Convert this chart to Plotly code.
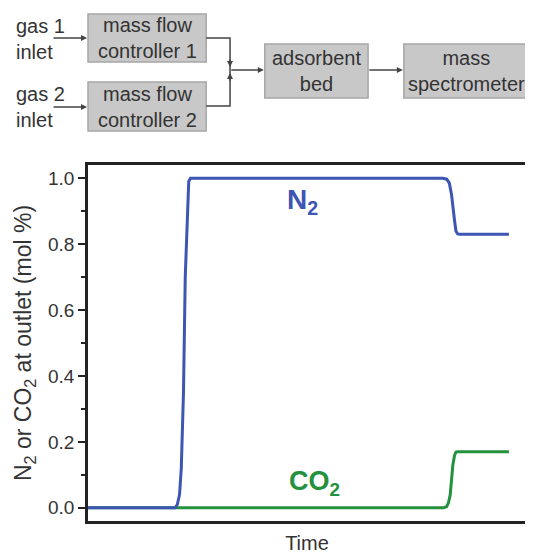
import plotly.graph_objects as go

# ---------------- data ----------------
n2_time = [0.0, 19.9, 20.4, 20.9, 21.3, 21.8, 22.2, 22.7, 23.0, 23.4,
           81.0, 81.9, 82.5, 83.0, 83.3, 83.7, 84.0, 84.4, 84.8, 96.1]
n2_value = [0.0, 0.0, 0.01, 0.04, 0.12, 0.35, 0.70, 0.93, 0.99, 1.0,
            1.0, 0.997, 0.985, 0.95, 0.91, 0.87, 0.84, 0.831, 0.83, 0.83]

co2_time = [0.0, 81.2, 81.9, 82.3, 82.7, 83.0, 83.3, 83.7, 84.0, 84.4, 96.1]
co2_value = [0.0, 0.0, 0.004, 0.015, 0.04, 0.08, 0.13, 0.16, 0.169, 0.17, 0.17]

y_ticks = [0.0, 0.2, 0.4, 0.6, 0.8, 1.0]
y_ticklabels = ["0.0", "0.2", "0.4", "0.6", "0.8", "1.0"]

diagram_boxes = ["mass flow<br>controller 1", "mass flow<br>controller 2",
                 "adsorbent<br>bed", "mass<br>spectrometer"]
inlet_labels = ["gas 1<br>inlet", "gas 2<br>inlet"]

# ---------------- styling ----------------
BLUE = "#3d55b3"
GREEN = "#23913e"
TXT = "#333333"
FONT = "Liberation Sans, Arial, sans-serif"

OFF = 8                       # page body margin of the browser
W, H = 533 - OFF, 554 - OFF
PLOT_X0, PLOT_X1, PLOT_Y0, PLOT_Y1 = 88, 529, 165, 521   # reference pixels
L, T = PLOT_X0 - OFF, PLOT_Y0 - OFF
R, B = (533 - PLOT_X1), (554 - PLOT_Y1)
PW, PH = PLOT_X1 - PLOT_X0, PLOT_Y1 - PLOT_Y0


def PX(px):
    return (px - PLOT_X0) / PW


def PY(py):
    return (PLOT_Y1 - py) / PH


fig = go.Figure()
fig.add_trace(go.Scatter(x=co2_time, y=co2_value, mode="lines",
                         line=dict(color=GREEN, width=3), name="CO2"))
fig.add_trace(go.Scatter(x=n2_time, y=n2_value, mode="lines",
                         line=dict(color=BLUE, width=3), name="N2"))

shapes = []
annotations = []

# boxes of the flow diagram (pixel boxes -> paper coords)
box_px = [(88, 14, 207, 62), (88, 82, 207, 131), (266, 44, 370, 98), (406, 44, 532, 98)]
for (x0, y0, x1, y1), label in zip(box_px, diagram_boxes):
    shapes.append(dict(type="rect", xref="paper", yref="paper",
                       x0=PX(x0), x1=PX(x1), y0=PY(y1), y1=PY(y0),
                       fillcolor="#c8c8c8", line=dict(color="#a6a6a6", width=1.5)))
    annotations.append(dict(xref="paper", yref="paper", x=PX((x0 + x1) / 2), y=PY((y0 + y1) / 2),
                            text=label, showarrow=False, xanchor="center", yanchor="middle",
                            font=dict(family=FONT, size=20, color=TXT)))

for label, cy in zip(inlet_labels, [38.5, 106.5]):
    annotations.append(dict(xref="paper", yref="paper", x=PX(13), y=PY(cy),
                            text=label, showarrow=False, xanchor="left", yanchor="middle",
                            align="left", font=dict(family=FONT, size=20, color=TXT)))

# connecting lines
for (ya, yb) in [(38, 70), (106, 70)]:
    shapes.append(dict(type="path", xref="paper", yref="paper",
                       path=f"M {PX(207)} {PY(ya)} L {PX(231)} {PY(ya)} L {PX(231)} {PY(yb)}",
                       line=dict(color="#444444", width=1.5)))

arrows = [((52, 38), (87, 38)), ((52, 107), (87, 107)), ((231, 70), (265, 70)),
          ((370, 70), (405, 70)), ((231, 58), (231, 67)), ((231, 82), (231, 73))]
for (xa, ya), (xh, yh) in arrows:
    annotations.append(dict(xref="paper", yref="paper", x=PX(xh), y=PY(yh),
                            ax=xa - xh, ay=ya - yh, text="", showarrow=True,
                            arrowhead=2, arrowsize=0.8, arrowwidth=1.5, arrowcolor="#444444"))

# series labels
annotations.append(dict(xref="paper", yref="paper", x=PX(304), y=PY(201),
                        text="N<sub>2</sub>", showarrow=False, xanchor="center", yanchor="middle",
                        font=dict(family=FONT, size=28, color=BLUE, weight="bold")))
annotations.append(dict(xref="paper", yref="paper", x=PX(316), y=PY(483),
                        text="CO<sub>2</sub>", showarrow=False, xanchor="center", yanchor="middle",
                        font=dict(family=FONT, size=27, color=GREEN, weight="bold")))

fig.update_layout(
    width=W, height=H,
    margin=dict(l=L, r=R, t=T, b=B),
    plot_bgcolor="white", paper_bgcolor="white",
    showlegend=False,
    shapes=shapes, annotations=annotations,
    font=dict(family=FONT, color=TXT),
)
fig.update_xaxes(range=[0, 100], showgrid=False, zeroline=False, showticklabels=False,
                 ticks="", showline=True, linecolor="#222222", linewidth=2.5, mirror=True,
                 title=dict(text="Time", font=dict(size=20, color=TXT), standoff=15))
fig.update_yaxes(range=[-0.04, 1.04], showgrid=False, zeroline=False,
                 tickvals=y_ticks, ticktext=y_ticklabels,
                 ticks="outside", ticklen=7, tickwidth=2, tickcolor="#222222",
                 minor=dict(dtick=0.1, tick0=0, ticks="outside", ticklen=4, tickwidth=2, tickcolor="#222222"),
                 tickfont=dict(size=19, color=TXT),
                 showline=True, linecolor="#222222", linewidth=2.5, mirror=True,
                 title=dict(text="N<sub>2</sub> or CO<sub>2</sub> at outlet (mol %)",
                            font=dict(size=23, color=TXT), standoff=10))

fig.write_html("out.html")
